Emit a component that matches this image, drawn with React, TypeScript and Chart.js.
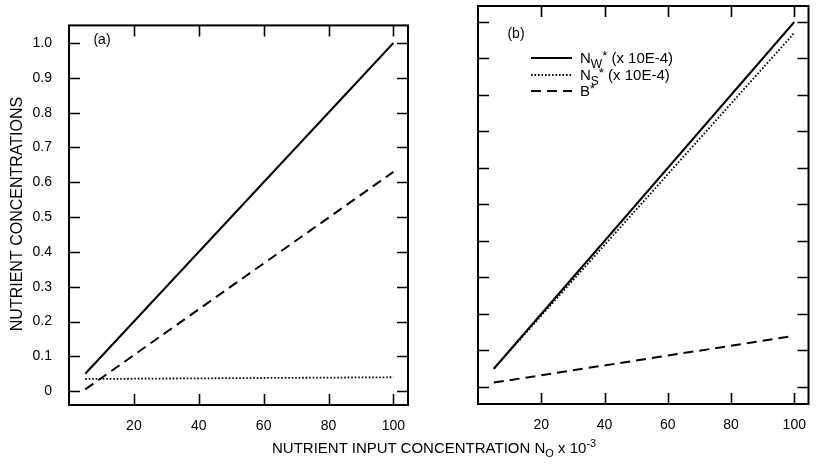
import React, { useEffect, useRef } from "react";
import { Chart, registerables } from "chart.js";

Chart.register(...registerables);

// ---- data ----
const xInput = [5, 100];
// panel (a)
const aSolid = [0.05, 1.0];
const aDashed = [0.005, 0.63];
const aDotted = [0.035, 0.04];
// panel (b)
const bNW = [0.05, 1.0];
const bNS = [0.05, 0.97];
const bB = [0.012, 0.14];

const xTicks = [20, 40, 60, 80, 100];
const xTickLabels = ["20", "40", "60", "80", "100"];
const yTicks = [0, 0.1, 0.2, 0.3, 0.4, 0.5, 0.6, 0.7, 0.8, 0.9, 1.0];
const yTickLabels = ["0", "0.1", "0.2", "0.3", "0.4", "0.5", "0.6", "0.7", "0.8", "0.9", "1.0"];

const yTitle = "NUTRIENT CONCENTRATIONS";
const legendRows = [
  { base: "N", sub: "W", sup: "*", tail: " (x 10E-4)" },
  { base: "N", sub: "S", sup: "*", tail: " (x 10E-4)" },
  { base: "B", sub: "", sup: "*", tail: "" },
];

const FONT = "'Liberation Sans', Arial, Helvetica, sans-serif";
const SOLID: number[] = [];
const DASH = [10, 6];
const DOT = [1.6, 1.9];

const pts = (ys: number[]) => xInput.map((x, i) => ({ x, y: ys[i] }));

const frameTicks = {
  id: "frameTicks",
  afterDraw(chart: any) {
    const { ctx, chartArea: a, scales } = chart;
    const x = scales.x;
    const y = scales.y;
    const L = 11;
    ctx.save();
    ctx.strokeStyle = "#000";
    ctx.lineWidth = 1.6;
    ctx.beginPath();
    for (const v of xTicks) {
      const px = Math.round(x.getPixelForValue(v)) + 0.5;
      ctx.moveTo(px, a.bottom);
      ctx.lineTo(px, a.bottom - L);
      ctx.moveTo(px, a.top);
      ctx.lineTo(px, a.top + L);
    }
    for (const v of yTicks) {
      const py = Math.round(y.getPixelForValue(v)) + 0.5;
      ctx.moveTo(a.left, py);
      ctx.lineTo(a.left + L, py);
      ctx.moveTo(a.right, py);
      ctx.lineTo(a.right - L, py);
    }
    ctx.stroke();
    ctx.lineWidth = 2;
    ctx.strokeRect(a.left, a.top, a.right - a.left, a.bottom - a.top);
    ctx.restore();
  },
};

function drawRich(ctx: CanvasRenderingContext2D, x: number, y: number, r: { base: string; sub: string; sup: string; tail: string }) {
  ctx.textAlign = "left";
  ctx.textBaseline = "alphabetic";
  ctx.font = `15px ${FONT}`;
  ctx.fillText(r.base, x, y);
  x += ctx.measureText(r.base).width;
  let subW = 0;
  if (r.sub) {
    ctx.font = `12px ${FONT}`;
    ctx.fillText(r.sub, x, y + 5);
    subW = ctx.measureText(r.sub).width;
  }
  ctx.font = `13px ${FONT}`;
  ctx.fillText(r.sup, x + subW, y - 3);
  x += subW + ctx.measureText(r.sup).width;
  ctx.font = `15px ${FONT}`;
  ctx.fillText(r.tail, x, y);
}

const leftText = {
  id: "leftText",
  afterDraw(chart: any) {
    const { ctx } = chart;
    ctx.save();
    ctx.fillStyle = "#000";
    ctx.font = `14px ${FONT}`;
    ctx.textAlign = "center";
    ctx.textBaseline = "middle";
    ctx.fillText("(a)", 102, 40);
    ctx.translate(18, 214);
    ctx.rotate(-Math.PI / 2);
    ctx.font = `16px ${FONT}`;
    ctx.fillText(yTitle, 0, 0);
    ctx.restore();
  },
};

const rightText = {
  id: "rightText",
  afterDraw(chart: any) {
    const { ctx } = chart;
    const off = 440;
    ctx.save();
    ctx.fillStyle = "#000";
    ctx.strokeStyle = "#000";
    ctx.font = `14px ${FONT}`;
    ctx.textAlign = "center";
    ctx.textBaseline = "middle";
    ctx.fillText("(b)", 516 - off, 34);
    const rowsY = [58, 75, 91];
    const styles = [
      { dash: SOLID, lw: 2 },
      { dash: DOT, lw: 1.8 },
      { dash: DASH, lw: 2 },
    ];
    legendRows.forEach((r, i) => {
      ctx.save();
      ctx.lineWidth = styles[i].lw;
      ctx.setLineDash(styles[i].dash);
      ctx.beginPath();
      ctx.moveTo(531 - off, rowsY[i]);
      ctx.lineTo(572 - off, rowsY[i]);
      ctx.stroke();
      ctx.restore();
      drawRich(ctx, 580 - off, rowsY[i] + 5, r);
    });
    ctx.restore();
  },
};

function makeOptions(opts: {
  yMin: number;
  yMax: number;
  yWidth: number;
  xHeight: number;
  padTop: number;
  padRight: number;
  showYLabels: boolean;
}) {
  return {
    responsive: false,
    animation: false as const,
    devicePixelRatio: 1,
    layout: { padding: { top: opts.padTop, right: opts.padRight, left: 0, bottom: 0 } },
    plugins: { legend: { display: false }, tooltip: { enabled: false } },
    elements: { point: { radius: 0 }, line: { tension: 0 } },
    scales: {
      x: {
        type: "linear" as const,
        min: 0,
        max: 104.5,
        grid: { display: false, drawTicks: false },
        border: { display: false },
        afterBuildTicks: (s: any) => {
          s.ticks = xTicks.map((v) => ({ value: v }));
        },
        afterFit: (s: any) => {
          s.height = opts.xHeight;
        },
        ticks: {
          color: "#000",
          font: { family: FONT, size: 14 },
          padding: 13,
          maxRotation: 0,
          autoSkip: false,
          callback: (v: any) => {
            const i = xTicks.indexOf(Number(v));
            return i >= 0 ? xTickLabels[i] : "";
          },
        },
      },
      y: {
        type: "linear" as const,
        min: opts.yMin,
        max: opts.yMax,
        grid: { display: false, drawTicks: false },
        border: { display: false },
        afterBuildTicks: (s: any) => {
          s.ticks = yTicks.map((v) => ({ value: v }));
        },
        afterFit: (s: any) => {
          s.width = opts.yWidth;
        },
        ticks: {
          display: opts.showYLabels,
          color: "#000",
          font: { family: FONT, size: 14 },
          padding: 17,
          autoSkip: false,
          callback: (v: any) => {
            const i = yTicks.findIndex((t) => Math.abs(t - Number(v)) < 1e-9);
            return i >= 0 ? yTickLabels[i] : "";
          },
        },
      },
    },
  };
}

function ds(label: string, ys: number[], dash: number[], lw: number) {
  return {
    label,
    data: pts(ys),
    borderColor: "#000",
    backgroundColor: "#000",
    borderWidth: lw,
    borderDash: dash,
    pointRadius: 0,
    fill: false,
  };
}

export default function App() {
  const leftRef = useRef<HTMLCanvasElement>(null);
  const rightRef = useRef<HTMLCanvasElement>(null);

  useEffect(() => {
    const left = new Chart(leftRef.current as HTMLCanvasElement, {
      type: "line",
      data: {
        datasets: [
          ds("solid", aSolid, SOLID, 2),
          ds("dashed", aDashed, DASH, 2),
          ds("dotted", aDotted, DOT, 1.8),
        ],
      },
      options: makeOptions({
        yMin: -0.0397,
        yMax: 1.0507,
        yWidth: 69,
        xHeight: 464 - 405,
        padTop: 7,
        padRight: 32,
        showYLabels: true,
      }) as any,
      plugins: [frameTicks, leftText],
    });
    const right = new Chart(rightRef.current as HTMLCanvasElement, {
      type: "line",
      data: {
        datasets: [
          ds("NW*", bNW, SOLID, 2),
          ds("NS*", bNS, DOT, 1.8),
          ds("B*", bB, DASH, 2),
        ],
      },
      options: makeOptions({
        yMin: -0.0466,
        yMax: 1.0438,
        yWidth: 38,
        xHeight: 464 - 404,
        padTop: 6,
        padRight: 1,
        showYLabels: false,
      }) as any,
      plugins: [frameTicks, rightText],
    });
    return () => {
      left.destroy();
      right.destroy();
    };
  }, []);

  return (
    <div style={{ position: "absolute", left: 0, top: 0, width: 819, height: 464, background: "#fff", overflow: "hidden" }}>
      <canvas ref={leftRef} width={440} height={464} style={{ position: "absolute", left: 0, top: 0 }} />
      <canvas ref={rightRef} width={379} height={464} style={{ position: "absolute", left: 440, top: 0 }} />
      <div
        style={{
          position: "absolute",
          left: 272,
          top: 439,
          whiteSpace: "nowrap",
          fontFamily: FONT,
          fontSize: 15,
          lineHeight: "18px",
          color: "#000",
        }}
      >
        NUTRIENT INPUT CONCENTRATION N
        <span style={{ fontSize: 11, position: "relative", top: 4 }}>O</span>
        {" x 10"}
        <span style={{ fontSize: 11, position: "relative", top: -6 }}>-3</span>
      </div>
    </div>
  );
}
